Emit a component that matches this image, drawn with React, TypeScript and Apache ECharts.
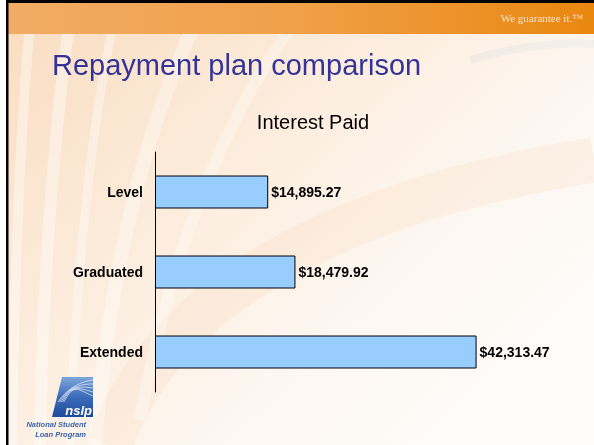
import React, { useEffect, useRef } from "react";
import * as echarts from "echarts";

const categories = ["Level", "Graduated", "Extended"];
const interestPaid = [14895.27, 18479.92, 42313.47];
const chartTitle = "Interest Paid";
const slideTitle = "Repayment plan comparison";
const tagline = "We guarantee it.\u2122";
const logoLines = ["National Student", "Loan Program"];

const fmt = (v: number) =>
  "$" + v.toLocaleString("en-US", { minimumFractionDigits: 2, maximumFractionDigits: 2 });

export default function App() {
  const ref = useRef<HTMLDivElement>(null);
  useEffect(() => {
    const chart = echarts.init(ref.current!, null, { renderer: "svg" });
    const swoosh = (x1: number, y1: number, cx1: number, cy1: number, cx2: number, cy2: number, x2: number, y2: number, w: number, color: string, op: number) => ({
      type: "bezierCurve",
      silent: true,
      z: -50,
      shape: { x1, y1, cpx1: cx1, cpy1: cy1, cpx2: cx2, cpy2: cy2, x2, y2 },
      style: { stroke: color, lineWidth: w, opacity: op, fill: null },
    });
    const graphic: any[] = [
      {
        type: "rect", z: -100, silent: true,
        shape: { x: 0, y: 0, width: 594, height: 445 },
        style: {
          fill: new echarts.graphic.LinearGradient(0, 0, 1, 0.8, [
            { offset: 0, color: "#f9dcbf" },
            { offset: 0.4, color: "#fcecdc" },
            { offset: 0.7, color: "#fdf7f1" },
            { offset: 1, color: "#fefcfa" },
          ]),
        },
      },
      swoosh(110, 445, 150, 330, 280, 210, 594, 160, 45, "#f8d3ae", 0.2),
      swoosh(12, 445, 14, 300, 20, 120, 32, 3, 10, "#ffffff", 0.4),
      swoosh(40, 445, 42, 280, 55, 120, 72, 3, 12, "#ffffff", 0.4),
      swoosh(70, 445, 74, 300, 90, 120, 118, 3, 9, "#ffffff", 0.35),
      swoosh(95, 445, 110, 260, 150, 110, 205, 3, 14, "#ffffff", 0.35),
      swoosh(140, 420, 170, 250, 230, 100, 310, 3, 12, "#ffffff", 0.3),
      swoosh(470, 60, 520, 45, 560, 42, 594, 44, 8, "#c9d3de", 0.18),
      {
        type: "rect", z: -40, silent: true,
        shape: { x: 0, y: 3, width: 594, height: 31 },
        style: {
          fill: new echarts.graphic.LinearGradient(0, 0, 1, 0, [
            { offset: 0, color: "#f2ac66" },
            { offset: 0.5, color: "#f0a048" },
            { offset: 1, color: "#e9870f" },
          ]),
        },
      },
      swoosh(20, 34, 21, 20, 22, 10, 24, 3, 3, "#8a5a30", 0.35),
      swoosh(60, 34, 63, 20, 66, 10, 70, 3, 3, "#8a5a30", 0.3),
      swoosh(100, 34, 106, 20, 110, 10, 116, 3, 3, "#8a5a30", 0.3),
      swoosh(180, 34, 188, 22, 195, 12, 204, 3, 3, "#8a5a30", 0.3),
      swoosh(285, 34, 295, 22, 302, 12, 312, 3, 3, "#8a5a30", 0.28),
      swoosh(26, 34, 27, 20, 28, 10, 30, 3, 5, "#ffffff", 0.3),
      swoosh(66, 34, 69, 20, 72, 10, 76, 3, 5, "#ffffff", 0.3),
      swoosh(190, 34, 198, 22, 205, 12, 214, 3, 5, "#ffffff", 0.25),
      {
        type: "rect", z: -30, silent: true,
        shape: { x: 0, y: 0, width: 594, height: 3 },
        style: { fill: "#000000" },
      },
      {
        type: "rect", z: -30, silent: true,
        shape: { x: 0, y: 0, width: 6, height: 445 },
        style: { fill: "#ffffff" },
      },
      {
        type: "rect", z: -29, silent: true,
        shape: { x: 6, y: 0, width: 2.5, height: 445 },
        style: { fill: "#000000" },
      },
      {
        type: "text", z: 10, silent: true,
        x: 583, y: 18,
        style: {
          text: tagline, fill: "#fde4c8", font: "11px 'Liberation Serif', serif",
          textAlign: "right", textVerticalAlign: "middle",
        },
      },
      {
        type: "text", z: 10, silent: true,
        x: 52, y: 65,
        style: {
          text: slideTitle, fill: "#333399", font: "29px 'Liberation Sans', Arial, sans-serif",
          textAlign: "left", textVerticalAlign: "middle",
        },
      },
      {
        type: "text", z: 10, silent: true,
        x: 313, y: 122,
        style: {
          text: chartTitle, fill: "#000000", font: "20px 'Liberation Sans', Arial, sans-serif",
          textAlign: "center", textVerticalAlign: "middle",
        },
      },
      {
        type: "polygon", z: 5, silent: true,
        shape: { points: [[62, 377], [93, 377], [93, 417], [52, 417]] },
        style: {
          fill: new echarts.graphic.LinearGradient(0, 0, 0, 1, [
            { offset: 0, color: "#7fa6db" },
            { offset: 0.5, color: "#3c6cb8" },
            { offset: 1, color: "#1e4b9b" },
          ]),
        },
      },
      ...[0, 1, 2, 3, 4].map((i) => ({
        type: "bezierCurve", z: 6, silent: true,
        shape: { x1: 58 + i * 1.5, y1: 402, cpx1: 66 + i * 2, cpy1: 390 - i * 2, cpx2: 78, cpy2: 382 + i * 2, x2: 93, y2: 380 + i * 4 },
        style: { stroke: "#ffffff", lineWidth: 0.8, opacity: 0.75, fill: null },
      })),
      {
        type: "text", z: 7, silent: true,
        x: 92, y: 410,
        style: {
          text: "nslp", fill: "#ffffff", font: "italic bold 13px 'Liberation Sans', Arial, sans-serif",
          textAlign: "right", textVerticalAlign: "middle",
        },
      },
      {
        type: "text", z: 7, silent: true,
        x: 86, y: 424,
        style: {
          text: logoLines[0], fill: "#3d63ad", font: "italic bold 7.5px 'Liberation Sans', Arial, sans-serif",
          textAlign: "right", textVerticalAlign: "middle",
        },
      },
      {
        type: "text", z: 7, silent: true,
        x: 86, y: 434,
        style: {
          text: logoLines[1], fill: "#3d63ad", font: "italic bold 7.5px 'Liberation Sans', Arial, sans-serif",
          textAlign: "right", textVerticalAlign: "middle",
        },
      },
    ];

    chart.setOption({
      animation: false,
      graphic,
      grid: { left: 155, top: 152, width: 380, height: 240, containLabel: false },
      xAxis: { type: "value", min: 0, max: 50000, show: false },
      yAxis: {
        type: "category",
        data: categories,
        inverse: true,
        axisLine: { show: true, lineStyle: { color: "#000000", width: 1 } },
        axisTick: { show: false },
        splitLine: { show: false },
        axisLabel: {
          margin: 12,
          color: "#000000",
          fontWeight: "bold",
          fontSize: 14,
          fontFamily: "'Liberation Sans', Arial, sans-serif",
        },
      },
      series: [
        {
          type: "bar",
          data: interestPaid,
          barWidth: 33,
          itemStyle: { color: "#99ccff", borderColor: "#000000", borderWidth: 1 },
          label: {
            show: true,
            position: "right",
            distance: 3,
            formatter: (p: any) => fmt(p.value),
            color: "#000000",
            fontWeight: "bold",
            fontSize: 14,
            fontFamily: "'Liberation Sans', Arial, sans-serif",
          },
        },
      ],
    });
    return () => chart.dispose();
  }, []);
  return (
    <div
      ref={ref}
      style={{ position: "fixed", left: 0, top: 0, width: 594, height: 445 }}
    />
  );
}
